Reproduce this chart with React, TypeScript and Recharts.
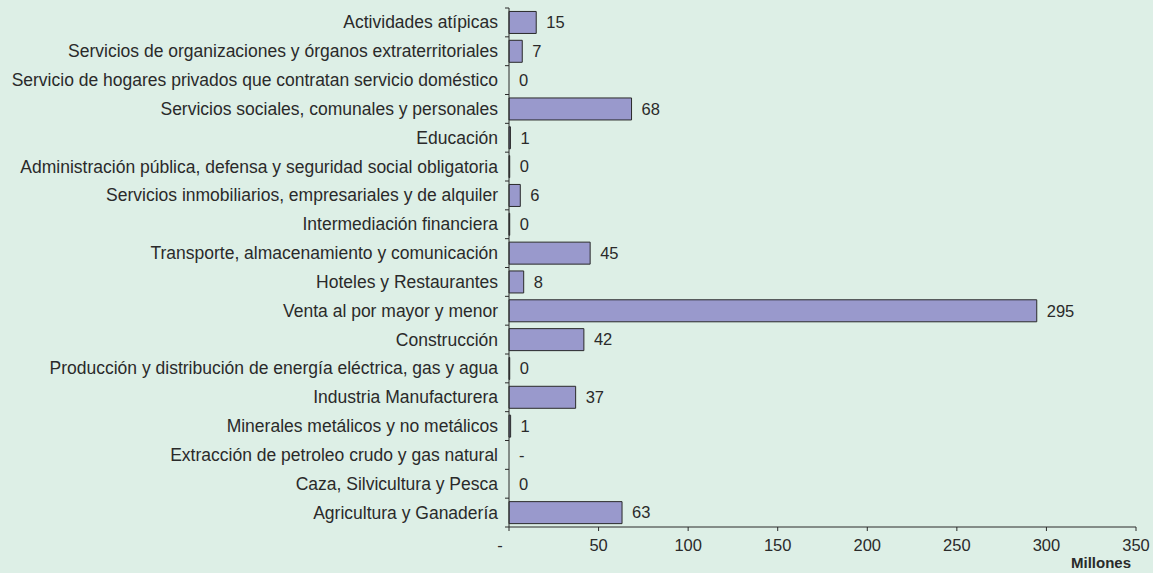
import { Bar, BarChart, LabelList, Rectangle, XAxis, YAxis } from 'recharts'

const sectors = [
  'Actividades atípicas',
  'Servicios de organizaciones y órganos extraterritoriales',
  'Servicio de hogares privados que contratan servicio doméstico',
  'Servicios sociales, comunales y personales',
  'Educación',
  'Administración pública, defensa y seguridad social obligatoria',
  'Servicios inmobiliarios, empresariales y de alquiler',
  'Intermediación financiera',
  'Transporte, almacenamiento y comunicación',
  'Hoteles y Restaurantes',
  'Venta al por mayor y menor',
  'Construcción',
  'Producción y distribución de energía eléctrica, gas y agua',
  'Industria Manufacturera',
  'Minerales metálicos y no metálicos',
  'Extracción de petroleo crudo y gas natural',
  'Caza, Silvicultura y Pesca',
  'Agricultura y Ganadería',
]

// millones (0 exacto se muestra como "-")
const values = [
  15.2, 7.4, 0.02, 68.4, 0.8, 0.4, 6.3, 0.4, 45.3, 8.2, 294.6, 41.8, 0.4, 37.2, 0.9, 0, 0.03, 63.1,
]

const xTicks = [0, 50, 100, 150, 200, 250, 300, 350]

const BG = '#DDEFE6'
const INK = '#2a2a2a'
const FONT = 'Arial, "Liberation Sans", sans-serif'

const chartData = sectors.map((name, i) => ({ name, value: values[i] }))

const fmt = (v: any) => (!v ? '-' : String(Math.round(v)))

function SectorTick(props: any) {
  const { x, y, payload, index } = props
  const half = payload?.offset ?? 0
  const last = index === sectors.length - 1
  return (
    <g>
      <line x1={x - 4} x2={x} y1={y - half} y2={y - half} stroke={INK} />
      {last && <line x1={x - 4} x2={x} y1={y + half} y2={y + half} stroke={INK} />}
      <text
        x={x - 11}
        y={y}
        textAnchor="end"
        dominantBaseline="central"
        fill={INK}
        fontSize={17.5}
        fontFamily={FONT}
      >
        {payload.value}
      </text>
    </g>
  )
}

// accounting style: the zero dash sits a little left of its tick
function AmountTick(props: any) {
  const { x, y, payload } = props
  const zero = payload.value === 0
  return (
    <text
      x={zero ? x - 9 : x}
      y={y}
      dy="0.71em"
      textAnchor="middle"
      fill={INK}
      fontSize={16.5}
      fontFamily={FONT}
    >
      {zero ? '-' : payload.value}
    </text>
  )
}

// sub-pixel bars are not drawn (as in the original), but keep their labels
function SectorBar(props: any) {
  if (!props.width || props.width < 0.3) return null
  return <Rectangle {...props} />
}

export default function App() {
  return (
    <div style={{ width: 1153, height: 573, background: BG }}>
      <style>{'body{margin:0}'}</style>
      <BarChart
        width={1153}
        height={573}
        layout="vertical"
        data={chartData}
        margin={{ top: 8, right: 17, left: 0, bottom: 0 }}
        barCategoryGap="12%"
      >
        <XAxis
          type="number"
          domain={[0, 350]}
          ticks={xTicks}
          interval={0}
          height={46}
          stroke={INK}
          tickSize={4}
          tickMargin={8}
          tick={<AmountTick />}
          label={{
            value: 'Millones',
            position: 'insideBottomRight',
            offset: 5,
            fill: INK,
            fontSize: 15,
            fontWeight: 'bold',
            fontFamily: FONT,
          }}
        />
        <YAxis
          type="category"
          dataKey="name"
          width={509}
          stroke={INK}
          tickLine={false}
          tickSize={0}
          tickMargin={0}
          interval={0}
          tick={<SectorTick />}
        />
        <Bar
          dataKey="value"
          fill="#9999CC"
          stroke={INK}
          strokeWidth={1}
          minPointSize={0.01}
          shape={<SectorBar />}
          isAnimationActive={false}
        >
          <LabelList
            dataKey="value"
            position="right"
            offset={10}
            fill={INK}
            fontSize={16.5}
            fontFamily={FONT}
            formatter={fmt}
          />
        </Bar>
      </BarChart>
    </div>
  )
}
